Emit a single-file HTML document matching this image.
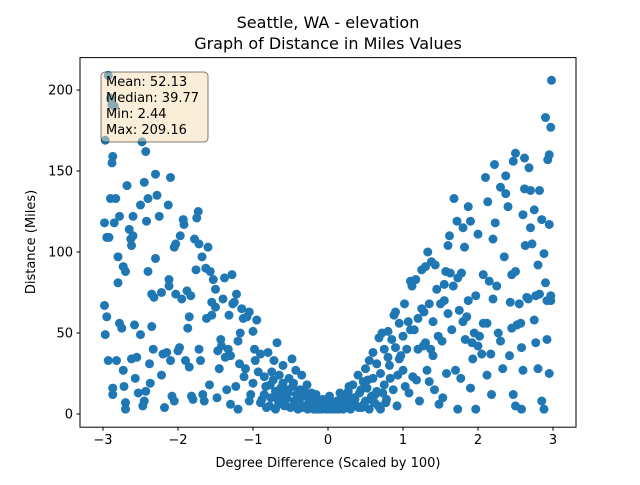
<!DOCTYPE html>
<html><head><meta charset="utf-8"><style>
body{margin:0;background:#fff;font-family:"Liberation Sans","DejaVu Sans",sans-serif}
svg text{font-family:"DejaVu Sans","Liberation Sans",sans-serif}
</style></head><body>
<svg id="chart" width="640" height="480" xmlns="http://www.w3.org/2000/svg">
<rect width="640" height="480" fill="#fff"/>
<text x="328" y="28" text-anchor="middle" font-size="16">Seattle, WA - elevation</text>
<text x="328" y="49" text-anchor="middle" font-size="16">Graph of Distance in Miles Values</text>
<g id="marks"></g>
<rect x="80" y="57.6" width="496" height="369.6" fill="none" stroke="#000" stroke-width="1"/>
<g id="xticks"></g>
<g id="yticks"></g>
<text x="328" y="467" text-anchor="middle" font-size="13">Degree Difference (Scaled by 100)</text>
<text transform="translate(35,242) rotate(-90)" text-anchor="middle" font-size="13">Distance (Miles)</text>
<g>
<rect x="101" y="72" width="107" height="70" rx="4" fill="rgba(245,222,179,0.5)" stroke="rgba(0,0,0,0.5)" stroke-width="1"/>
<text x="106" y="86" font-size="13">Mean: 52.13</text>
<text x="106" y="102" font-size="13">Median: 39.77</text>
<text x="106" y="118" font-size="13">Min: 2.44</text>
<text x="106" y="134" font-size="13">Max: 209.16</text>
</g>
</svg>
<script>
const xTicks=[-3,-2,-1,0,1,2,3];
const yTicks=[0,50,100,150,200];
const xs=[-2.98,-2.98,-2.97,-2.95,-2.93,-2.95,-2.92,-2.97,-2.9,-2.88,-2.87,-2.93,-2.9,-2.88,-2.85,-2.87,-2.87,-2.85,-2.83,-2.82,-2.8,-2.8,-2.78,-2.78,-2.75,-2.73,-2.73,-2.72,-2.7,-2.7,-2.7,-2.68,-2.65,-2.63,-2.62,-2.62,-2.6,-2.6,-2.58,-2.57,-2.55,-2.53,-2.5,-2.5,-2.48,-2.45,-2.43,-2.47,-2.45,-2.43,-2.4,-2.4,-2.42,-2.38,-2.37,-2.35,-2.35,-2.32,-2.3,-2.33,-2.3,-2.28,-2.25,-2.22,-2.22,-2.2,-2.18,-2.15,-2.12,-2.13,-2.1,-2.12,-2.1,-2.08,-2.05,-2.05,-2.03,-2.03,-2.0,-1.98,-1.97,-1.95,-1.93,-1.92,-1.9,-1.88,-1.87,-1.85,-1.85,-1.83,-1.82,-1.8,-1.78,-1.76,-1.75,-1.73,-1.72,-1.72,-1.7,-1.68,-1.67,-1.65,-1.63,-1.62,-1.6,-1.58,-1.57,-1.55,-1.55,-1.53,-1.5,-1.5,-1.48,-1.47,-1.45,-1.43,-1.42,-1.4,-1.38,-1.37,-1.35,-1.33,-1.32,-1.3,-1.3,-1.28,-1.27,-1.25,-1.23,-1.22,-1.2,-1.2,-1.18,-1.17,-1.15,-1.13,-1.12,-1.1,-1.08,-1.05,-1.05,-1.03,-1.0,-1.0,-0.98,-0.97,-0.95,-0.93,-0.9,-0.9,-0.88,-0.85,-0.85,-0.82,-0.8,-0.78,-0.77,-0.75,-0.72,-0.7,-0.7,-0.68,-0.67,-0.65,-0.62,-0.6,-0.6,-0.58,-0.55,-0.55,-0.52,-0.5,-0.48,-0.47,-0.45,-0.43,-0.42,-0.4,-0.38,-0.37,-0.35,-0.32,-0.3,-0.28,-0.27,-0.25,-0.22,-0.2,-0.18,-0.17,-0.15,-0.12,-0.1,-0.08,-0.05,-0.02,0.0,
-0.83,-0.76,-0.73,-0.66,-0.63,-0.57,-0.53,-0.46,-0.44,-0.39,-0.34,-0.31,-0.26,-0.23,-0.19,-0.16,-0.13,-0.11,-0.07,-0.04,0.02,0.06,0.09,0.14,0.16,0.19,0.23,0.26,0.28,0.32,0.36,0.41,0.44,0.48,0.53,0.57,0.63,0.67,0.73,0.77,
0.03,0.05,0.08,0.1,0.12,0.13,0.15,0.18,0.2,0.22,0.25,0.27,0.3,0.3,0.33,0.35,0.38,0.4,0.42,0.45,0.47,0.5,0.5,0.52,0.55,0.55,0.58,0.6,0.6,0.62,0.65,0.65,0.68,0.7,0.7,0.72,0.75,0.75,0.78,0.8,0.8,0.82,0.83,0.85,0.87,0.88,0.9,0.9,0.92,0.93,0.95,0.95,0.97,1.0,1.0,1.02,1.03,1.05,1.07,1.08,1.1,1.1,1.12,1.13,1.15,1.17,1.18,1.2,1.2,1.22,1.25,1.25,1.27,1.28,1.3,1.3,1.32,1.33,1.35,1.35,1.37,1.38,1.4,1.4,1.42,1.43,1.45,1.47,1.48,1.5,1.52,1.53,1.55,1.55,1.57,1.58,1.6,1.6,1.62,1.63,1.65,1.67,1.68,1.7,1.72,1.73,1.73,1.75,1.77,1.78,1.8,1.8,1.82,1.83,1.85,1.87,1.87,1.9,1.9,1.92,1.93,1.95,1.97,1.97,2.0,2.0,2.02,2.05,2.07,2.07,2.1,2.12,2.12,2.13,2.15,2.17,2.18,2.2,2.2,2.22,2.23,2.25,2.27,2.3,2.3,2.33,2.35,2.37,2.37,2.4,2.42,2.43,2.45,2.45,2.47,2.47,2.5,2.5,2.5,2.52,2.55,2.57,2.58,2.58,2.6,2.6,2.62,2.62,2.63,2.65,2.67,2.68,2.7,2.7,2.72,2.75,2.75,2.77,2.77,2.8,2.8,2.82,2.82,2.85,2.85,2.88,2.88,2.9,2.9,2.92,2.92,2.93,2.95,2.95,2.95,2.97,2.97,2.97,2.98];
const ys=[118,67,49,60,33,109,109,169,133,155,159,209,195,191,190,12,16,118,133,33,81,97,122,56,53,91,27,17,3,7,88,141,114,108,104,34,122,110,55,22,35,13,49,129,168,143,162,5,8,14,133,88,119,31,19,74,54,72,96,40,148,135,122,75,24,37,4,38,83,129,146,79,33,11,8,103,74,105,39,41,110,71,120,117,33,76,53,60,29,73,11,9,108,89,121,125,105,40,33,97,12,8,90,59,103,18,88,61,69,83,66,77,10,39,28,46,42,71,84,35,15,40,61,36,6,86,68,69,17,74,3,45,31,50,65,59,23,28,60,63,8,12,19,51,40,33,58,26,37,7,9,12,23,4,38,5,18,26,33,14,3,44,9,24,12,30,19,5,10,15,22,4,34,17,8,27,12,3,9,15,24,5,11,18,3,8,13,5,7,10,3,4,7,3,5,3,6,
17,10,21,6,16,8,13,19,6,11,4,14,6,10,3,12,6,3,9,5,11,4,6,3,13,7,4,11,17,6,9,4,15,6,21,9,12,5,13,7,
3,7,3,4,8,3,6,11,3,8,5,14,3,9,18,10,5,24,13,4,20,8,28,16,3,33,11,38,22,7,31,14,47,25,3,50,40,18,9,35,51,30,22,46,15,61,41,63,5,24,34,56,36,48,27,68,17,40,57,13,52,82,79,23,52,83,21,59,40,8,65,89,42,63,44,91,27,100,68,20,40,94,57,36,15,92,77,48,6,68,45,10,70,80,88,25,62,104,110,87,52,79,133,27,119,84,3,64,22,87,115,57,103,46,60,70,128,119,16,44,34,50,3,73,111,42,48,37,86,56,146,24,56,131,82,37,12,71,108,154,118,79,50,45,140,28,97,136,147,128,36,69,53,86,12,156,161,88,5,55,68,56,3,41,123,27,158,139,104,72,71,152,115,138,105,126,58,73,44,92,28,74,138,120,8,3,99,183,81,70,46,157,160,25,117,177,73,70,206];
const X0=80,X1=576,Y0=427.2,Y1=57.6;
function sx(v){return 328+v*75;}
function sy(v){return 414-v*1.62;}
const NS="http://www.w3.org/2000/svg";
const marks=document.getElementById('marks');
for(let i=0;i<xs.length;i++){
  const c=document.createElementNS(NS,'circle');
  c.setAttribute('cx',sx(xs[i]));c.setAttribute('cy',sy(ys[i]));c.setAttribute('r',4.5);c.setAttribute('fill','#1f77b4');
  
  
  marks.appendChild(c);
}
const gx=document.getElementById('xticks');
xTicks.forEach(t=>{
  const x=sx(t);
  const l=document.createElementNS(NS,'line');
  l.setAttribute('x1',x);l.setAttribute('x2',x);l.setAttribute('y1',Y0);l.setAttribute('y2',Y0+3.5);l.setAttribute('stroke','#000');
  
  
  gx.appendChild(l);
  const tx=document.createElementNS(NS,'text');
  tx.setAttribute('x',x);tx.setAttribute('y',Y0+17);tx.setAttribute('text-anchor','middle');tx.setAttribute('font-size','13');
  tx.textContent=(t<0?'\u2212'+(-t):String(t));
  
  
  gx.appendChild(tx);
});
const gy=document.getElementById('yticks');
yTicks.forEach(t=>{
  const y=sy(t);
  const l=document.createElementNS(NS,'line');
  l.setAttribute('x1',X0-3.5);l.setAttribute('x2',X0);l.setAttribute('y1',y);l.setAttribute('y2',y);l.setAttribute('stroke','#000');
  
  
  gy.appendChild(l);
  const tx=document.createElementNS(NS,'text');
  tx.setAttribute('x',X0-7);tx.setAttribute('y',y+4.5);tx.setAttribute('text-anchor','end');tx.setAttribute('font-size','13');
  tx.textContent=String(t);
  
  
  gy.appendChild(tx);
});
</script>
</body></html>
